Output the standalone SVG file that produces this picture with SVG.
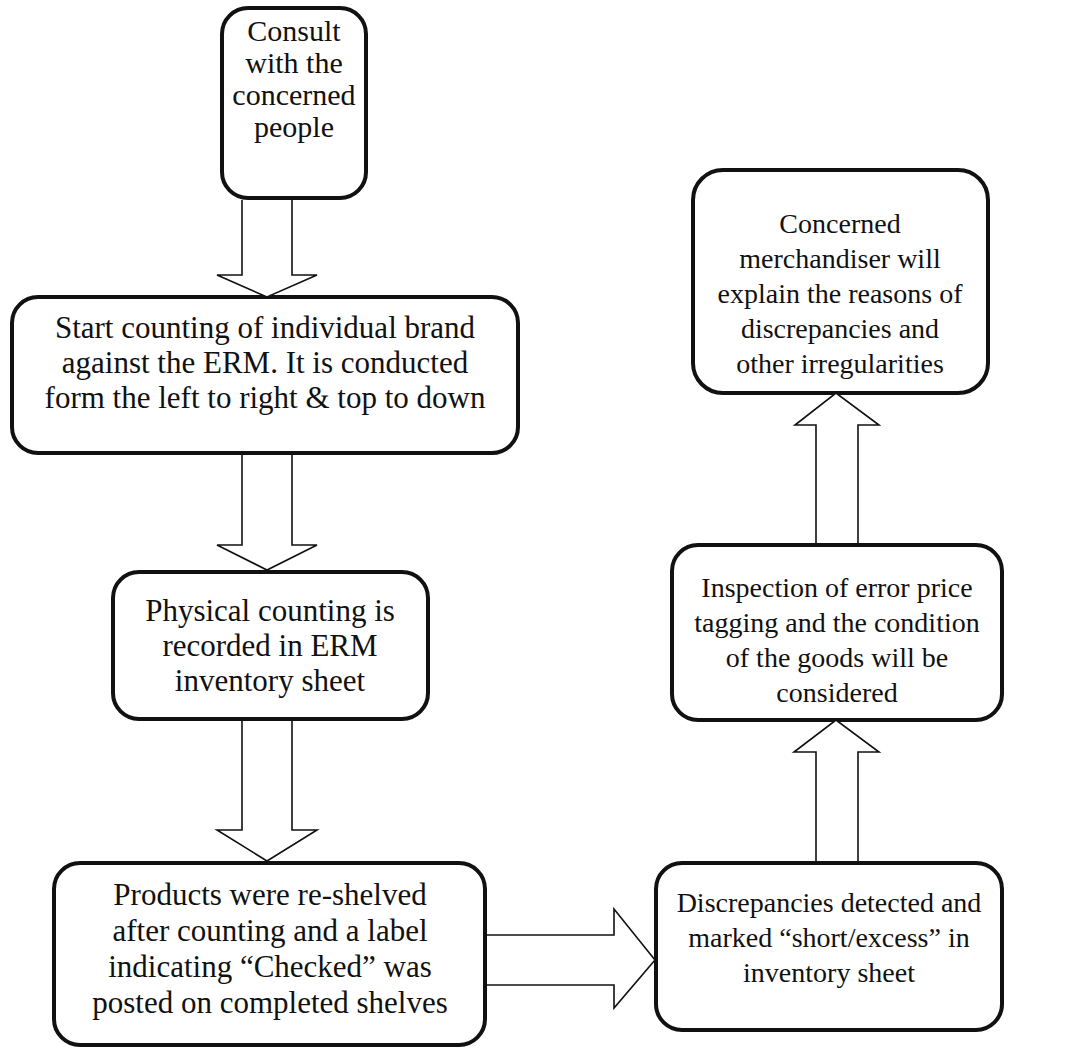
<svg xmlns="http://www.w3.org/2000/svg" width="1090" height="1053" viewBox="0 0 1090 1053">
<style>
.box{fill:#fff;stroke:#111;stroke-width:4}
.arr{fill:#fff;stroke:#111;stroke-width:1.6;stroke-linejoin:miter}
text{font-family:"Liberation Serif","Times New Roman",serif;font-size:31px;fill:#111;text-anchor:middle}
text.r{font-size:28px}
text.s{font-size:30px}
</style>
<rect width="1090" height="1053" fill="#fff"/>
<g id="n1">
<rect class="box" x="222" y="8" width="144" height="190" rx="26"/>
<text class="s" x="294" y="41">Consult</text>
<text class="s" x="294" y="73">with the</text>
<text class="s" x="294" y="105">concerned</text>
<text class="s" x="294" y="137">people</text>
</g>
<g id="n2">
<rect class="box" x="12" y="297" width="506" height="156" rx="26"/>
<text x="265" y="338">Start counting of individual brand</text>
<text x="265" y="373">against the ERM. It is conducted</text>
<text x="265" y="408">form the left to right &amp; top to down</text>
</g>
<g id="n3">
<rect class="box" x="113" y="572" width="315" height="147" rx="26"/>
<text x="270" y="621">Physical counting is</text>
<text x="270" y="656">recorded in ERM</text>
<text x="270" y="691">inventory sheet</text>
</g>
<g id="n4">
<rect class="box" x="54" y="863" width="431" height="182" rx="26"/>
<text x="270" y="905">Products were re-shelved</text>
<text x="270" y="941">after counting and a label</text>
<text x="270" y="977">indicating “Checked” was</text>
<text x="270" y="1013">posted on completed shelves</text>
</g>
<g id="n5">
<rect class="box" x="656" y="863" width="346" height="167" rx="26"/>
<text class="r" x="829" y="912">Discrepancies detected and</text>
<text class="r" x="829" y="947">marked “short/excess” in</text>
<text class="r" x="829" y="982">inventory sheet</text>
</g>
<g id="n6">
<rect class="box" x="672" y="545" width="330" height="175" rx="26"/>
<text class="r" x="837" y="597">Inspection of error price</text>
<text class="r" x="837" y="632">tagging and the condition</text>
<text class="r" x="837" y="667">of the goods will be</text>
<text class="r" x="837" y="702">considered</text>
</g>
<g id="n7">
<rect class="box" x="693" y="170" width="295" height="223" rx="30"/>
<text class="r" x="840" y="233">Concerned</text>
<text class="r" x="840" y="268">merchandiser will</text>
<text class="r" x="840" y="303">explain the reasons of</text>
<text class="r" x="840" y="338">discrepancies and</text>
<text class="r" x="840" y="373">other irregularities</text>
</g>
<g id="connectors">
<path class="arr" d="M242,200 L242,275 L217,275 L267,297 L317,275 L292,275 L292,200"/>
<path class="arr" d="M242,455 L242,545 L217,545 L267,570 L317,545 L292,545 L292,455"/>
<path class="arr" d="M242,721 L242,830 L217,830 L267,861 L317,830 L292,830 L292,721"/>
<path class="arr" d="M487,935 L614,935 L614,909 L655,960 L614,1008 L614,985 L487,985"/>
<path class="arr" d="M816,861 L816,752 L794,752 L836,720 L879,752 L858,752 L858,861"/>
<path class="arr" d="M816,543 L816,425 L795,425 L836,393 L879,425 L858,425 L858,543"/>
</g>
</svg>
